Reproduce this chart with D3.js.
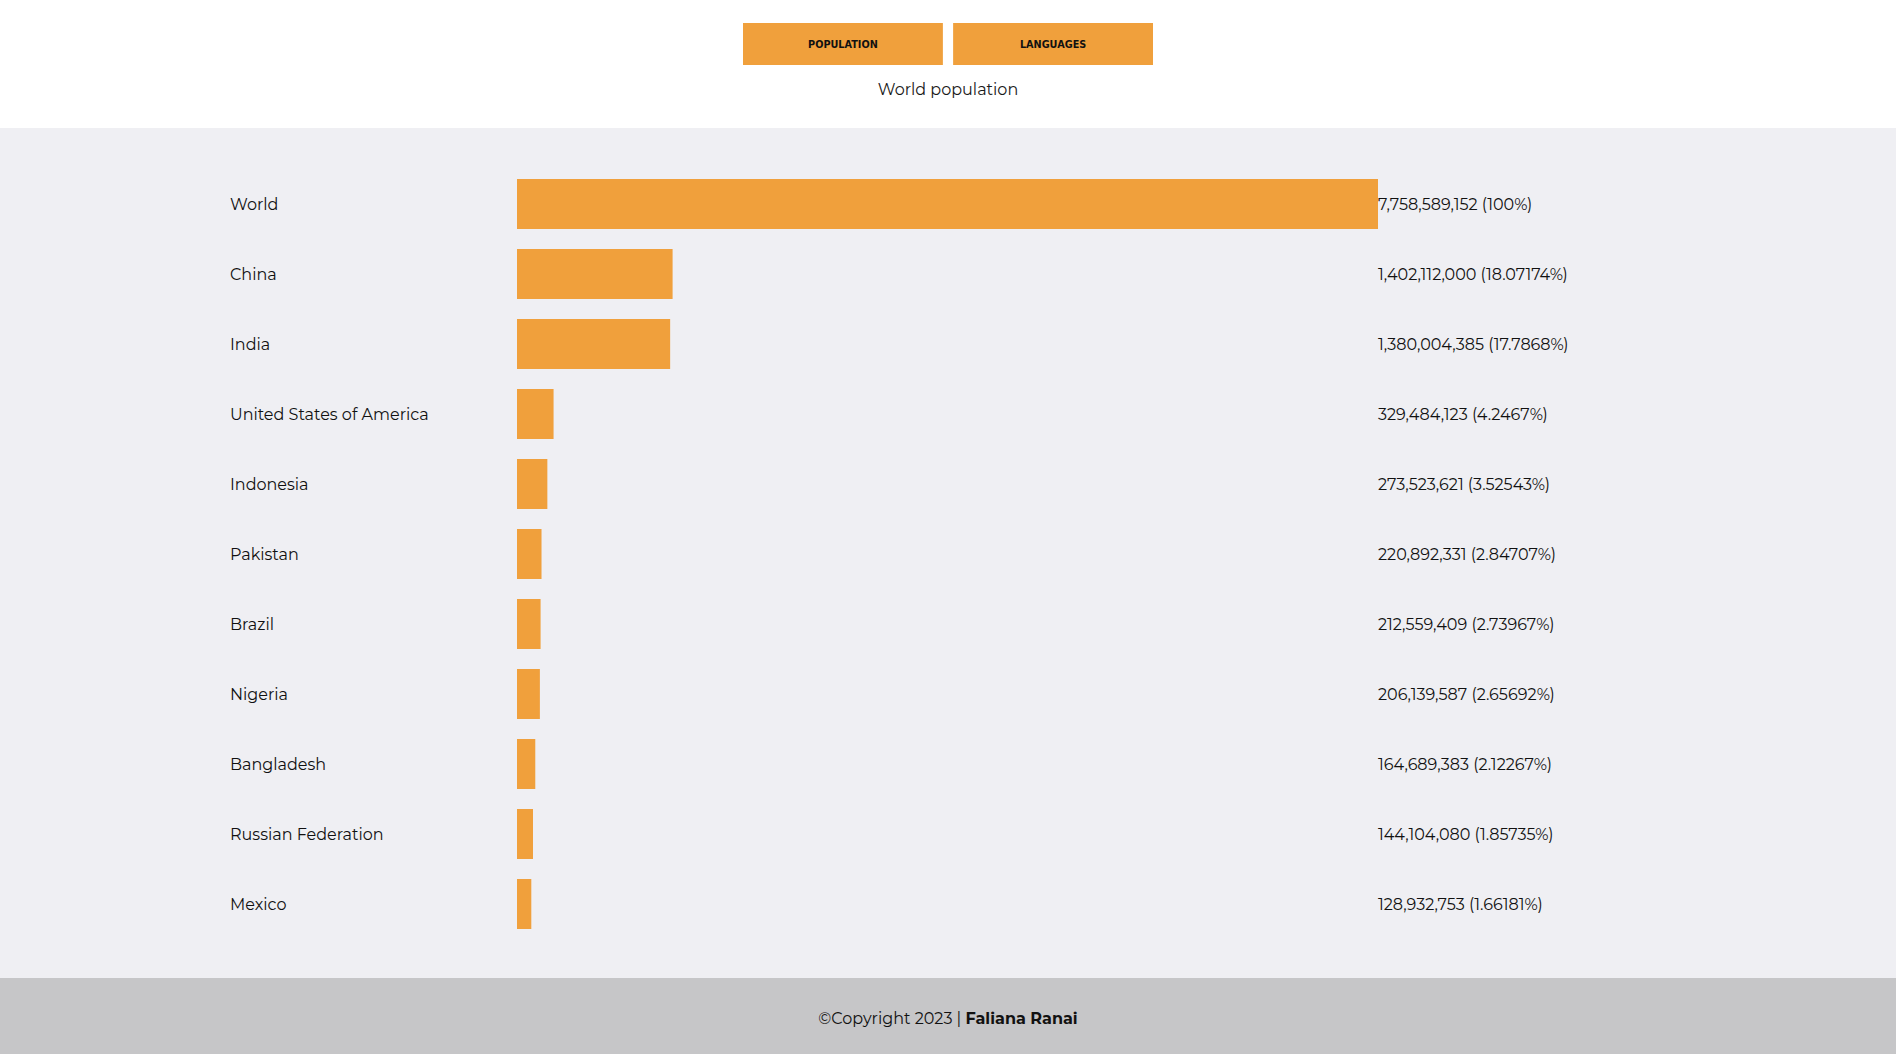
<!DOCTYPE html>
<html><head><meta charset="utf-8">
<script src="https://cdn.jsdelivr.net/npm/d3@7"></script>
<style>
html,body{margin:0;padding:0;background:#fff;overflow:hidden}
svg{display:block}
</style></head>
<body>
<script>
const countries = ["World","China","India","United States of America","Indonesia","Pakistan","Brazil","Nigeria","Bangladesh","Russian Federation","Mexico"];
const population = [7758589152,1402112000,1380004385,329484123,273523621,220892331,212559409,206139587,164689383,144104080,128932753];
const shareLabels = ["100%","18.07174%","17.7868%","4.2467%","3.52543%","2.84707%","2.73967%","2.65692%","2.12267%","1.85735%","1.66181%"];
const buttons = ["POPULATION","LANGUAGES"];
const title = "World population";

const W = 1896, H = 1054;
const font = "Montserrat, 'Open Sans', 'Noto Sans', sans-serif";
const orange = "#f0a03c";
const svg = d3.select("body").append("svg").attr("width", W).attr("height", H);

// backgrounds
svg.append("rect").attr("x",0).attr("y",0).attr("width",W).attr("height",128).attr("fill","#ffffff");
svg.append("rect").attr("x",0).attr("y",128).attr("width",W).attr("height",850).attr("fill","#efeff3");
svg.append("rect").attr("x",0).attr("y",978).attr("width",W).attr("height",76).attr("fill","#c6c6c8");

// buttons
const bx = d3.scaleBand().domain(buttons).range([743,1153]).paddingInner(10/410*2);
const bg = svg.append("g").selectAll("g").data(buttons).join("g");
bg.append("rect").attr("x",d=>bx(d)).attr("y",23).attr("width",bx.bandwidth()).attr("height",42).attr("fill",orange);
bg.append("text").attr("x",d=>bx(d)+bx.bandwidth()/2).attr("y",44.5).attr("dy","0.35em")
  .attr("text-anchor","middle").attr("font-family","'DejaVu Sans', Verdana, sans-serif")
  .attr("font-weight","bold").attr("font-size",9.7).attr("fill","#111").text(d=>d);

svg.append("text").attr("x",W/2).attr("y",89).attr("dy","0.35em").attr("text-anchor","middle")
  .attr("font-family",font).attr("font-size",16).attr("fill","#1a1a1a").text(title);

// chart
const x = d3.scaleLinear().domain([0, d3.max(population)]).range([517, 1378]);
const y = d3.scaleBand().domain(countries).range([179, 929]).paddingInner(20/70).paddingOuter(0);

const rows = svg.append("g").selectAll("g").data(countries).join("g");
rows.append("text").attr("x",230).attr("y",d=>y(d)+y.bandwidth()/2).attr("dy","0.35em")
  .attr("font-family",font).attr("font-size",16).attr("fill","#111").text(d=>d);
rows.append("rect").attr("x",x(0)).attr("y",d=>y(d)).attr("height",y.bandwidth())
  .attr("width",(d,i)=>x(population[i])-x(0)).attr("fill",orange);
const fmt = d3.format(",");
rows.append("text").attr("x",x.range()[1]).attr("y",d=>y(d)+y.bandwidth()/2).attr("dy","0.35em")
  .attr("font-family",font).attr("font-size",16).attr("fill","#111")
  .text((d,i)=>fmt(population[i])+" ("+shareLabels[i]+")");

// footer
const ft = svg.append("text").attr("x",W/2).attr("y",1018).attr("dy","0.35em").attr("text-anchor","middle")
  .attr("font-family",font).attr("font-size",16).attr("fill","#111");
ft.append("tspan").text("©Copyright 2023 | ");
ft.append("tspan").attr("font-weight","bold").text("Faliana Ranai");
</script>
</body></html>
